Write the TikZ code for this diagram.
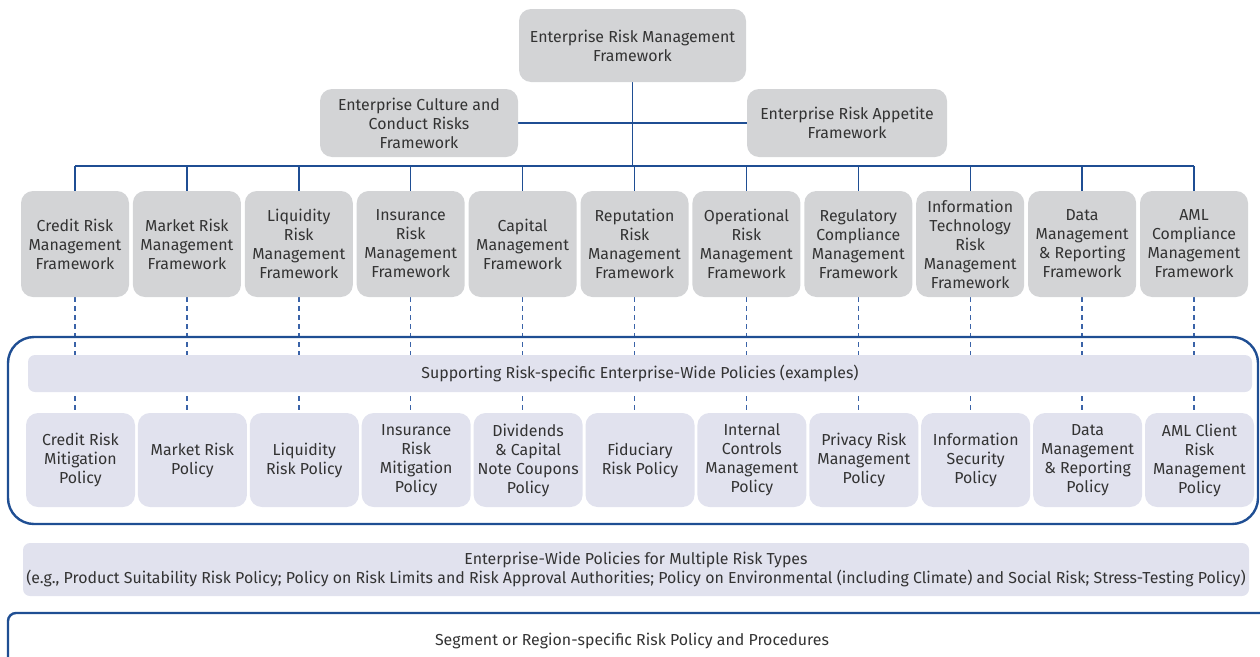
\documentclass[tikz,border=0pt]{standalone}
\usepackage{fontspec}
\setmainfont{Fira Sans}
\usetikzlibrary{backgrounds}
\definecolor{lineblue}{HTML}{1F4E93}
\definecolor{dashblue}{HTML}{3A63A8}
\definecolor{boxgrey}{HTML}{D3D4D6}
\definecolor{boxlav}{HTML}{E1E2EE}
\definecolor{txt}{HTML}{333333}
\begin{document}
\begin{tikzpicture}[x=1pt,y=-1pt,
  font=\fontsize{15.9}{19}\selectfont, text=txt,
  fw/.style={fill=boxgrey, rounded corners=12pt, minimum width=108pt, minimum height=106pt, align=center, inner sep=0pt},
  pol/.style={fill=boxlav, rounded corners=12pt, minimum width=109pt, minimum height=94pt, align=center, inner sep=0pt},
  topbox/.style={fill=boxgrey, rounded corners=12pt, align=center, inner sep=0pt},
  bar/.style={fill=boxlav, rounded corners=7pt, align=center, inner sep=0pt},
  conn/.style={draw=lineblue, line width=1.4pt},
  dashconn/.style={draw=dashblue, line width=1.4pt, dash pattern=on 5pt off 4pt},
  frameline/.style={draw=lineblue, line width=2.4pt}]
\useasboundingbox (0,0) rectangle (1260,656);
\clip (0,0) rectangle (1260,656);

\node[topbox, minimum width=227pt, minimum height=73pt] (erm) at (632.5,45.5) {Enterprise Risk Management\\Framework};
\node[topbox, minimum width=198pt, minimum height=68pt] (culture) at (419,123) {Enterprise Culture and\\Conduct Risks\\Framework};
\node[topbox, minimum width=200pt, minimum height=68pt] (appetite) at (847,123) {Enterprise Risk Appetite\\Framework};

\node[fw] (fw1) at (75.0,244) {Credit Risk\\Management\\Framework};
\node[fw] (fw2) at (186.9,244) {Market Risk\\Management\\Framework};
\node[fw] (fw3) at (298.8,244) {Liquidity\\Risk\\Management\\Framework};
\node[fw] (fw4) at (410.7,244) {Insurance\\Risk\\Management\\Framework};
\node[fw] (fw5) at (522.6,244) {Capital\\Management\\Framework};
\node[fw] (fw6) at (634.5,244) {Reputation\\Risk\\Management\\Framework};
\node[fw] (fw7) at (746.4,244) {Operational\\Risk\\Management\\Framework};
\node[fw] (fw8) at (858.3,244) {Regulatory\\Compliance\\Management\\Framework};
\node[fw] (fw9) at (970.2,244) {Information\\Technology\\Risk\\Management\\Framework};
\node[fw] (fw10) at (1082.1,244) {Data\\Management\\\& Reporting\\Framework};
\node[fw] (fw11) at (1194.0,244) {AML\\Compliance\\Management\\Framework};

\node[pol] (pl1) at (80.5,460) {Credit Risk\\Mitigation\\Policy};
\node[pol] (pl2) at (192.4,460) {Market Risk\\Policy};
\node[pol] (pl3) at (304.3,460) {Liquidity\\Risk Policy};
\node[pol] (pl4) at (416.2,460) {Insurance\\Risk\\Mitigation\\Policy};
\node[pol] (pl5) at (528.1,460) {Dividends\\\& Capital\\Note Coupons\\Policy};
\node[pol] (pl6) at (640.0,460) {Fiduciary\\Risk Policy};
\node[pol] (pl7) at (751.9,460) {Internal\\Controls\\Management\\Policy};
\node[pol] (pl8) at (863.8,460) {Privacy Risk\\Management\\Policy};
\node[pol] (pl9) at (975.7,460) {Information\\Security\\Policy};
\node[pol] (pl10) at (1087.6,460) {Data\\Management\\\& Reporting\\Policy};
\node[pol] (pl11) at (1199.5,460) {AML Client\\Risk\\Management\\Policy};

\node[bar, minimum width=1224pt, minimum height=37pt] (support) at (640,373.5) {Supporting Risk-specific Enterprise-Wide Policies (examples)};
\node[bar, minimum width=1226pt, minimum height=53pt] (multi) at (636,569.5) {Enterprise-Wide Policies for Multiple Risk Types\\(e.g., Product Suitability Risk Policy; Policy on Risk Limits and Risk Approval Authorities; Policy on Environmental (including Climate) and Social Risk; Stress-Testing Policy)};

\node (segment) at (632,641) {Segment or Region-specific Risk Policy and Procedures};

\begin{scope}[on background layer]
  \coordinate (bus) at (633,166);
  \draw[conn] (erm.south) -- (erm.south |- bus);
  \draw[conn] (culture.east) -- (appetite.west);
  \draw[conn] (fw1.north |- bus) -- (fw11.north |- bus);
  \foreach \i in {1,...,11} {\draw[conn] (fw\i.north |- bus) -- (fw\i.north);}
  \foreach \i in {1,...,11} {\draw[dashconn] (fw\i.south) -- (fw\i.south |- pl\i.north);}
  \draw[frameline, rounded corners=26pt] (8,337) rectangle (1258,524);
  \draw[frameline, rounded corners=8pt] (8,680) -- (8,613) -- (1275,613);
\end{scope}
\end{tikzpicture}
\end{document}
